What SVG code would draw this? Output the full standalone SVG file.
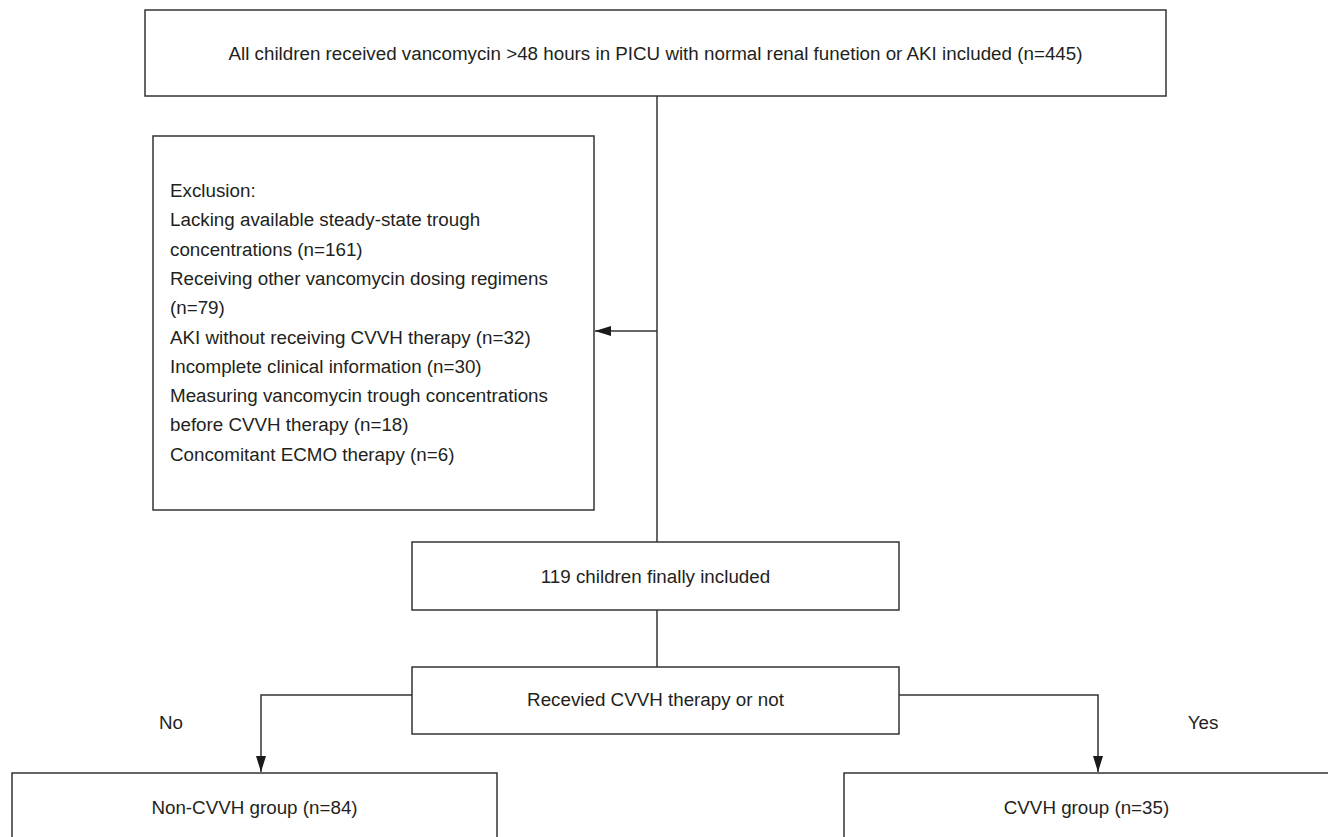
<svg xmlns="http://www.w3.org/2000/svg" width="1328" height="837" viewBox="0 0 1328 837">
<style>
.box{fill:#fff;stroke:#333;stroke-width:1.5}
.t{font-family:"Liberation Sans",Arial,sans-serif;font-size:18.8px;fill:#231f20}
.c{text-anchor:middle}
.ln{fill:none;stroke:#333;stroke-width:1.5}
</style>
<defs>
<marker id="ah" markerWidth="16" markerHeight="10" refX="16" refY="5" orient="auto" markerUnits="userSpaceOnUse">
<path d="M0,0 L16,5 L0,10 Z" fill="#1a1a1a"/>
</marker>
</defs>
<rect width="1328" height="837" fill="#fff"/>
<g id="connectors">
<line class="ln" x1="657" y1="96" x2="657" y2="542"/>
<line class="ln" x1="657" y1="331" x2="595" y2="331" marker-end="url(#ah)"/>
<line class="ln" x1="657" y1="610" x2="657" y2="667"/>
<polyline class="ln" points="412,695 261,695 261,772" marker-end="url(#ah)"/>
<polyline class="ln" points="899,695 1098,695 1098,772" marker-end="url(#ah)"/>
</g>
<g id="n-all">
<rect class="box" x="145" y="10" width="1021" height="86"/>
<text class="t c" x="655.5" y="60">All children received vancomycin &gt;48 hours in PICU with normal renal funetion or AKI included (n=445)</text>
</g>
<g id="n-exclusion">
<rect class="box" x="153" y="136" width="441" height="374"/>
<text class="t" x="170" y="197">Exclusion:</text>
<text class="t" x="170" y="226.3">Lacking available steady-state trough</text>
<text class="t" x="170" y="255.6">concentrations (n=161)</text>
<text class="t" x="170" y="284.9">Receiving other vancomycin dosing regimens</text>
<text class="t" x="170" y="314.2">(n=79)</text>
<text class="t" x="170" y="343.5">AKI without receiving CVVH therapy (n=32)</text>
<text class="t" x="170" y="372.8">Incomplete clinical information (n=30)</text>
<text class="t" x="170" y="402.1">Measuring vancomycin trough concentrations</text>
<text class="t" x="170" y="431.4">before CVVH therapy (n=18)</text>
<text class="t" x="170" y="460.7">Concomitant ECMO therapy (n=6)</text>
</g>
<g id="n-included">
<rect class="box" x="412" y="542" width="487" height="68"/>
<text class="t c" x="655.5" y="583">119 children finally included</text>
</g>
<g id="n-cvvh-decision">
<rect class="box" x="412" y="667" width="487" height="67"/>
<text class="t c" x="655.5" y="706">Recevied CVVH therapy or not</text>
</g>
<g id="n-non-cvvh">
<rect class="box" x="12" y="773" width="485" height="100"/>
<text class="t c" x="254.5" y="814">Non-CVVH group (n=84)</text>
</g>
<g id="n-cvvh">
<rect class="box" x="844" y="773" width="485" height="100"/>
<text class="t c" x="1086.5" y="814">CVVH group (n=35)</text>
</g>
<g id="labels">
<text class="t c" x="171" y="729">No</text>
<text class="t c" x="1203" y="729">Yes</text>
</g>
</svg>
